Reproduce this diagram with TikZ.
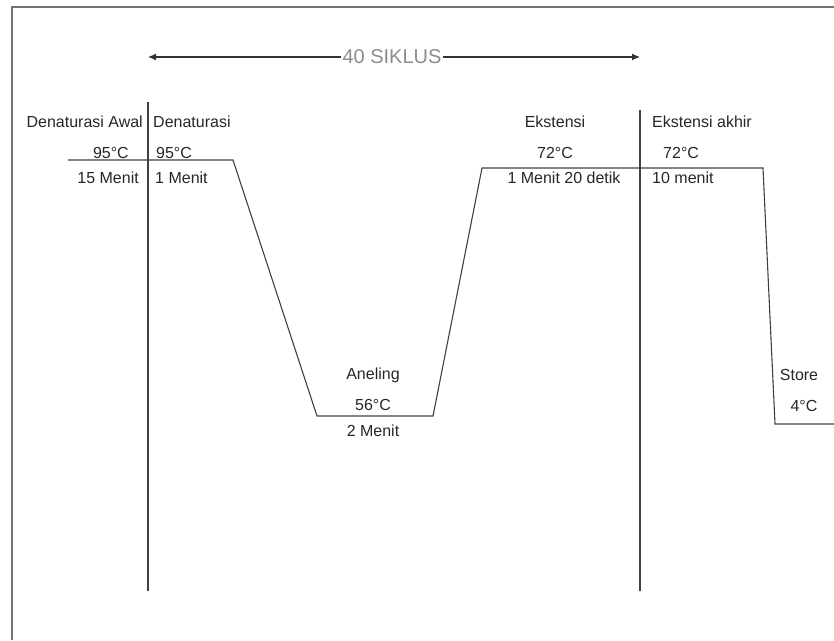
\documentclass[tikz,border=0pt]{standalone}
\usepackage{fontspec}
\setmainfont{Liberation Sans}
\usepackage{tikz}
\usetikzlibrary{arrows,arrows.meta}
\tikzstyle{txt} = [text=black!85, font=\fontsize{16}{18}\selectfont, inner sep=0pt]
\tikzstyle{siklus} = [text=black!45, font=\fontsize{20}{24}\selectfont, inner sep=1.5pt]
\tikzstyle{line} = [draw, black!75, line width=1.1pt]
\tikzstyle{arrow} = [draw, black!80, line width=1.1pt, -{Latex[length=8pt,width=7pt]}]
\tikzstyle{frame} = [draw, black!55, line width=1.8pt]

\begin{document}
\begin{tikzpicture}[x=1pt,y=-1pt,node distance=25pt]
      \useasboundingbox (0,0) rectangle (834,640);
      \draw [frame] (834,7) -- (12,7) -- (12,640);

      % siklus
      \node [siklus] (siklus) at (392,57) {40 SIKLUS};
      \coordinate (kiri) at (148,57);
      \coordinate (kanan) at (640,57);
      \path [arrow] (siklus.west) -- (kiri);
      \path [arrow] (siklus.east) -- (kanan);

      % batas siklus
      \coordinate (batasA) at (148,102);
      \coordinate (batasAb) at (148,591);
      \coordinate (batasB) at (640,110);
      \coordinate (batasBb) at (640,591);
      \path [line] (batasA) -- (batasAb);
      \path [line] (batasB) -- (batasBb);

      % profil suhu
      \coordinate (p0) at (68,160);
      \coordinate (p1) at (233,160);
      \coordinate (p2) at (317,416);
      \coordinate (p3) at (433,416);
      \coordinate (p4) at (482,168);
      \coordinate (p5) at (763,168);
      \coordinate (p6) at (775,424);
      \coordinate (p7) at (836,424);
      \path [line] (p0) -- (p1) -- (p2) -- (p3) -- (p4) -- (p5) -- (p6) -- (p7);

      % denaturasi awal
      \node [txt, anchor=east] (denA) at (143,122) {Denaturasi Awal};
      \node [txt, anchor=east] (denAsuhu) at (129,153) {95°C};
      \node [txt, anchor=east] (denAwaktu) at (139,178) {15 Menit};

      % denaturasi
      \node [txt, anchor=west] (den) at (153,122) {Denaturasi};
      \node [txt, anchor=west] (densuhu) at (156,153) {95°C};
      \node [txt, anchor=west] (denwaktu) at (155,178) {1 Menit};

      % aneling
      \node [txt] (anel) at (373,375) {Aneling};
      \node [txt, below of=anel, yshift=-5pt] (anelsuhu) {56°C};
      \node [txt, below of=anelsuhu, yshift=-1pt] (anelwaktu) {2 Menit};

      % ekstensi
      \node [txt] (eks) at (555,122) {Ekstensi};
      \node [txt, below of=eks, yshift=-6pt] (ekssuhu) {72°C};
      \node [txt, below of=ekssuhu, xshift=9pt] (ekswaktu) {1 Menit 20 detik};

      % ekstensi akhir
      \node [txt, anchor=west] (eksA) at (652,122) {Ekstensi akhir};
      \node [txt, anchor=west] (eksAsuhu) at (663,153) {72°C};
      \node [txt, anchor=west] (eksAwaktu) at (652,178) {10 menit};

      % store
      \node [txt] (store) at (799,375) {Store};
      \node [txt, below of=store, yshift=-6pt, xshift=5pt] (storesuhu) {4°C};

    \end{tikzpicture}
\end{document}
